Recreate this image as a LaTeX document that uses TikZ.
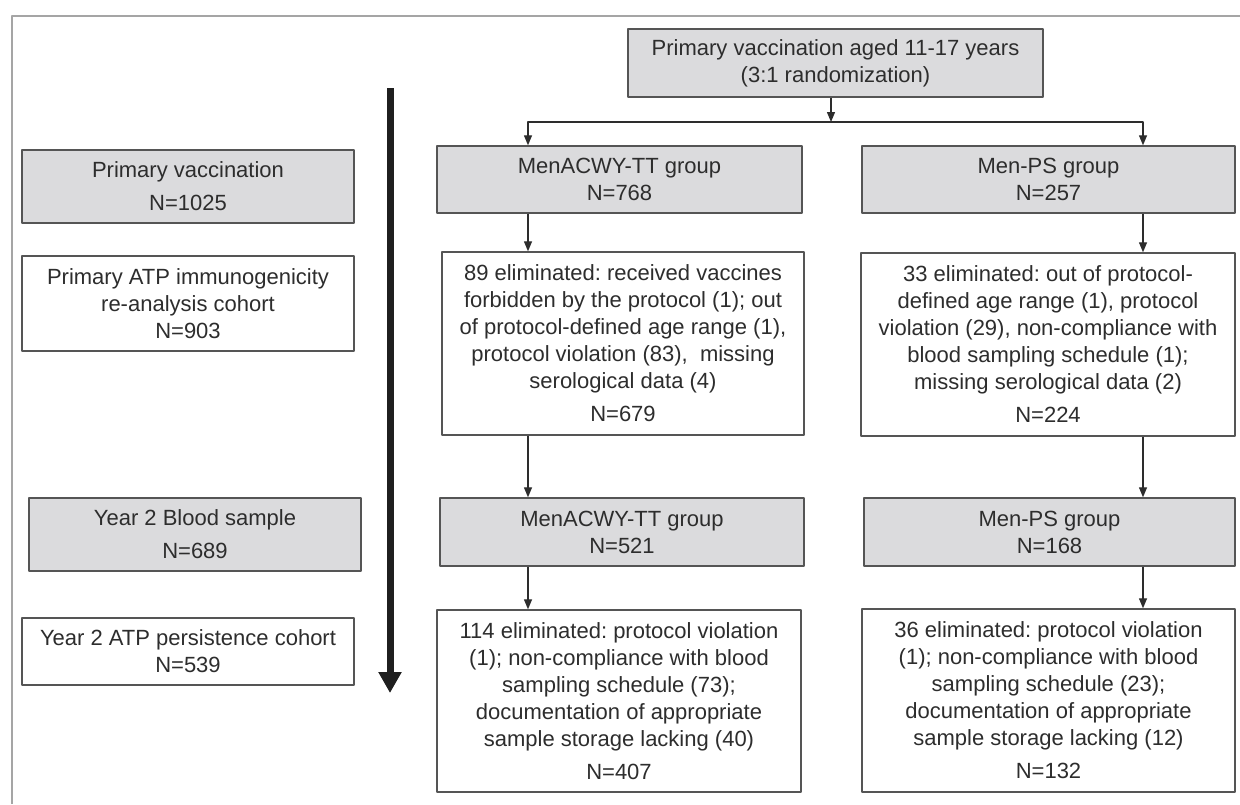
\documentclass[tikz,border=0pt]{standalone}
\usepackage{fontspec}
\setmainfont{Liberation Sans}
\usetikzlibrary{arrows.meta}
\frenchspacing
\definecolor{boxgray}{RGB}{219,219,221}
\definecolor{linegray}{RGB}{85,85,85}
\definecolor{txtgray}{RGB}{45,45,45}
\definecolor{framegray}{RGB}{165,165,165}
\begin{document}
\begin{tikzpicture}[x=1pt,y=-1pt,line join=round,>={Triangle[length=10pt,width=8pt]},
	every node/.style={font=\fontsize{22}{27}\selectfont,text=txtgray,align=center,inner sep=0pt},
	box/.style={draw=linegray,line width=1.4pt,fill=white},
	grp/.style={box,fill=boxgray},
	flow/.style={->,draw=txtgray,line width=1.3pt}]
	\useasboundingbox (0,0) rectangle (1240,804);
	\draw[framegray,line width=1.5pt] (12,804) -- (12,16) -- (1240,16);
	% time axis
	\coordinate (ttop) at (390,88); \coordinate (tend) at (390,693);
	\draw[line width=7pt,-{Triangle[length=21pt,width=22pt]},black!88] (ttop) -- (tend);
	% left column
	\node[grp,minimum width=332pt,minimum height=73pt] (pv) at (188,186.5) {Primary vaccination\\[6pt]N=1025};
	\node[box,minimum width=332pt,minimum height=95pt] (atpa) at (188,303.5) {Primary ATP immunogenicity\\re-analysis cohort\\N=903};
	\node[grp,minimum width=332pt,minimum height=73pt] (blood) at (195,534.5) {Year 2 Blood sample\\[6pt]N=689};
	\node[box,minimum width=332pt,minimum height=67pt] (atpb) at (188,651.5) {Year 2 ATP persistence cohort\\N=539};
	% study groups
	\node[grp,minimum width=415pt,minimum height=68pt] (top) at (835.5,63) {Primary vaccination aged 11-17 years\\(3:1 randomization)};
	\node[grp,minimum width=365pt,minimum height=67pt] (maca) at (619.5,179.5) {MenACWY-TT group\\N=768};
	\node[grp,minimum width=373pt,minimum height=67pt] (mpsa) at (1048.5,179.5) {Men-PS group\\N=257};
	\node[box,minimum width=362pt,minimum height=183pt] (elima) at (623,343.5) {89 eliminated: received vaccines\\forbidden by the protocol (1); out\\of protocol-defined age range (1),\\protocol violation (83),\ \ missing\\serological data (4)\\[6pt]N=679};
	\node[box,minimum width=374pt,minimum height=183pt] (elimb) at (1048,344.5) {33 eliminated: out of protocol-\\defined age range (1), protocol\\violation (29), non-compliance with\\blood sampling schedule (1);\\missing serological data (2)\\[6pt]N=224};
	\node[grp,minimum width=364pt,minimum height=68pt] (macb) at (622,532) {MenACWY-TT group\\N=521};
	\node[grp,minimum width=371pt,minimum height=68pt] (mpsb) at (1049.5,532) {Men-PS group\\N=168};
	\node[box,minimum width=364pt,minimum height=182pt] (elimc) at (619,701) {114 eliminated: protocol violation\\(1); non-compliance with blood\\sampling schedule (73);\\documentation of appropriate\\sample storage lacking (40)\\[6pt]N=407};
	\node[box,minimum width=373pt,minimum height=183pt] (elimd) at (1048.5,700.5) {36 eliminated: protocol violation\\(1); non-compliance with blood\\sampling schedule (23);\\documentation of appropriate\\sample storage lacking (12)\\[6pt]N=132};
	% connectors
	\coordinate (jl) at (528,122); \coordinate (jm) at (831,122); \coordinate (jr) at (1143,122);
	\draw[flow] (top.south -| jm) -- (jm);
	\draw[flow,<->] (jl |- maca.north) -- (jl) -- (jr) -- (jr |- mpsa.north);
	\draw[flow] (maca.south -| jl) -- (elima.north -| jl);
	\draw[flow] (elima.south -| jl) -- (macb.north -| jl);
	\draw[flow] (macb.south -| jl) -- (elimc.north -| jl);
	\draw[flow] (mpsa.south -| jr) -- (elimb.north -| jr);
	\draw[flow] (elimb.south -| jr) -- (mpsb.north -| jr);
	\draw[flow] (mpsb.south -| jr) -- (elimd.north -| jr);
\end{tikzpicture}
\end{document}
